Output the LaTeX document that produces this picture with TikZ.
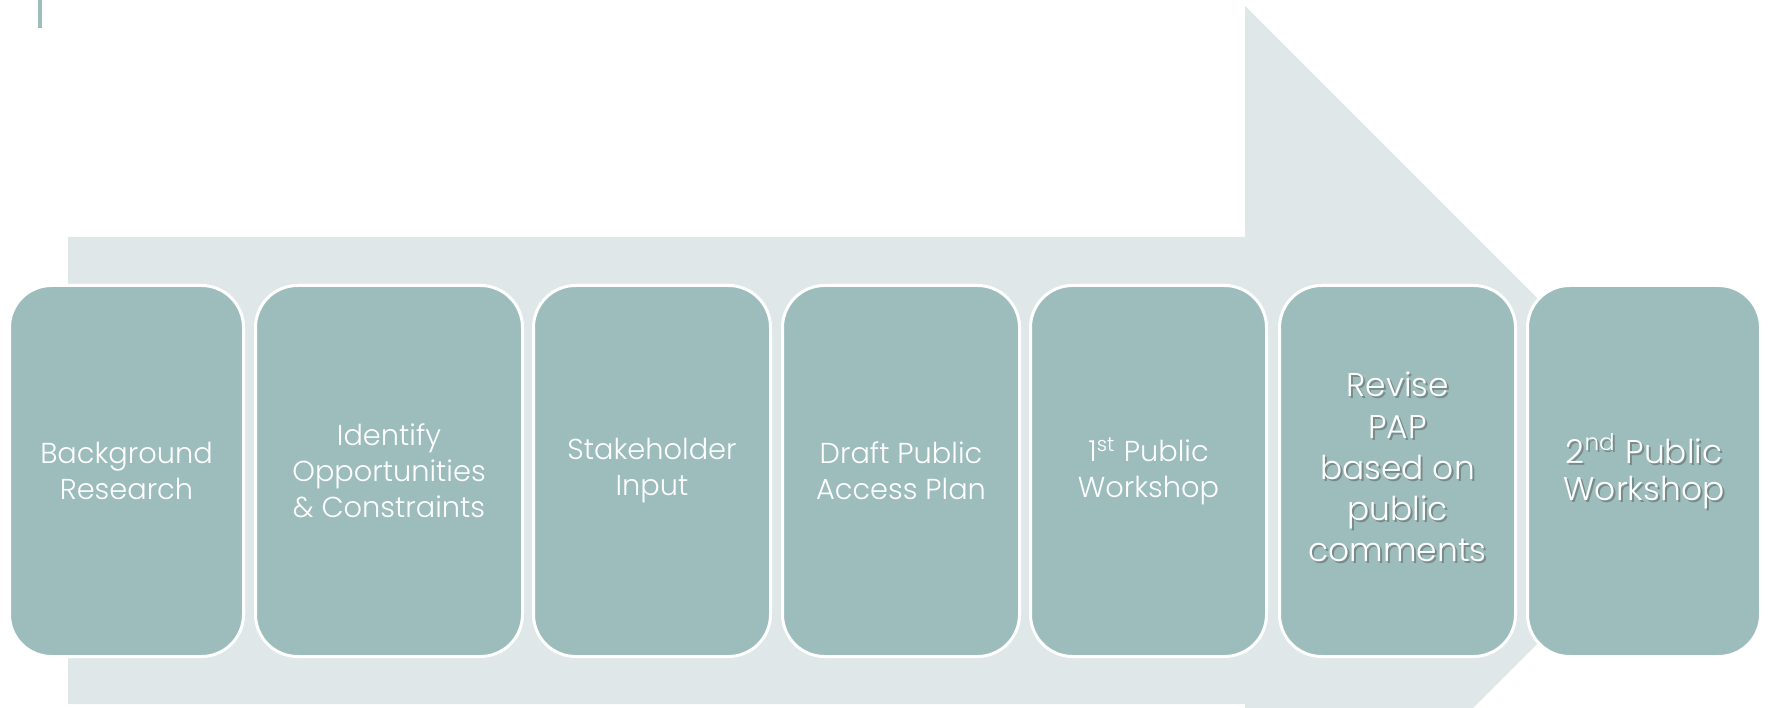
\documentclass[tikz,border=0pt]{standalone}
\usepackage{fontspec}
\IfFontExistsTF{Poppins Light}{\setmainfont{Poppins Light}}{\setmainfont{Poppins}}
\definecolor{stepfill}{RGB}{157,189,189}
\definecolor{arrowbg}{RGB}{223,231,232}
\tikzset{
  stepbox/.style={draw=white, line width=0.03cm, fill=stepfill, rounded corners=0.42cm,
    minimum height=3.71cm, inner sep=0pt, align=center, text=white,
    font=\fontsize{8.2pt}{10.24pt}\selectfont},
  bigtxt/.style={align=center, inner sep=0pt, text=white, font=\fontsize{9.35pt}{10.5pt}\selectfont},
  talltxt/.style={bigtxt, font=\fontsize{9.35pt}{11.7pt}\selectfont},
  shadowtxt/.style={text=black!70, text opacity=0.45}
}
\begin{document}
\begin{tikzpicture}
   \clip (0,0) rectangle (17.73,7.07);
   \fill[arrowbg] (0.68,4.70) -- (12.45,4.70) -- (12.45,7.01) -- (17.10,2.36) -- (12.45,-2.29) -- (12.45,0.03) -- (0.68,0.03) -- cycle;
   \draw[line width=0.04cm, color=stepfill] (0.40,7.07) -- (0.40,6.79);
   \foreach \n/\x/\w/\t in {b1/1.265/2.34/{Background\\Research},
                           b2/3.890/2.67/{Identify\\Opportunities\\\& Constraints},
                           b3/6.520/2.37/{Stakeholder\\Input},
                           b4/9.010/2.37/{Draft Public\\Access Plan},
                           b5/11.485/2.36/{1\textsuperscript{st} Public\\Workshop}}
      \node[stepbox, minimum width=\w cm] (\n) at (\x,2.36) {\t};
   \node[stepbox, minimum width=2.36cm] (b6) at (13.975,2.36) {};
   \node[stepbox, minimum width=2.33cm] (b7) at (16.44,2.36) {};
   \node[talltxt, shadowtxt] at ([xshift=0.02cm,yshift=0.02cm]b6.center) {Revise\\PAP\\based on\\public\\comments};
   \node[talltxt] (t6) at ([yshift=0.04cm]b6.center) {Revise\\PAP\\based on\\public\\comments};
   \node[bigtxt, shadowtxt] at ([xshift=0.02cm,yshift=-0.02cm]b7.center) {2\textsuperscript{nd} Public\\Workshop};
   \node[bigtxt] (t7) at (b7.center) {2\textsuperscript{nd} Public\\Workshop};
\end{tikzpicture}
\end{document}
